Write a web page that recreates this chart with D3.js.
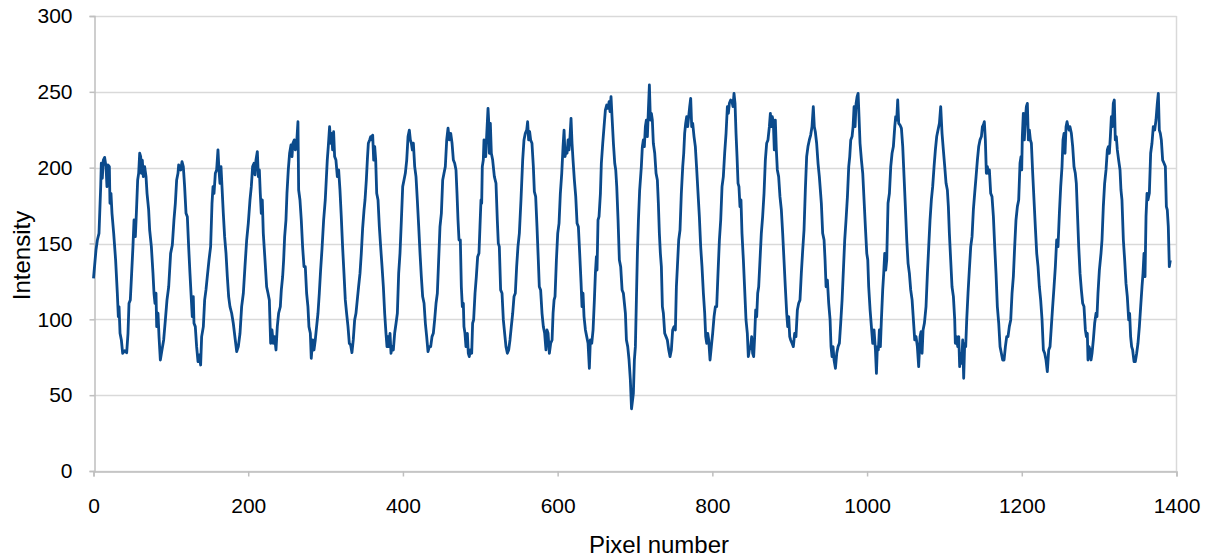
<!DOCTYPE html>
<html>
<head>
<meta charset="utf-8">
<script src="https://cdn.jsdelivr.net/npm/d3@7"></script>
<style>
  html, body { margin: 0; padding: 0; background: #ffffff; }
  svg { display: block; font-family: "Liberation Sans", Arial, sans-serif; }
</style>
</head>
<body>
<svg id="chart" width="1207" height="560"></svg>
<script>
// Intensity profile along a line of pixels
const pixelNumber = [
  0, 3.2, 5, 7.1, 9.3, 10.1, 11.4, 12.7, 14.4, 16.2, 17.4, 18.7, 20.5, 21.3, 22.6, 23.9, 26.1, 28.6, 30.8, 32.1,
  33, 34.3, 36, 37.7, 40.3, 42.9, 44.6, 45.9, 47.6, 49.3, 51, 52.4, 54.1, 55.4, 57.1, 58.4, 59.7, 61, 61.8, 63.1,
  64.4, 66.1, 67.9, 69.2, 71.3, 72.6, 74.8, 76.9, 78.2, 79.5, 80.8, 81.7, 83.4, 84.7, 86.4, 88.5, 90.7, 92.9, 95, 97.2,
  99.7, 101.9, 104, 105.8, 107.5, 109.2, 110.1, 112.7, 114.4, 116.1, 117.8, 119.6, 121.3, 123, 124.7, 126.5, 127.7, 129, 129.9, 131.6,
  133.3, 135.1, 136.8, 138.5, 139.8, 142, 143.7, 145.4, 147.1, 149.3, 151.4, 153.2, 154.5, 155.8, 157.5, 159.2, 160.9, 162.2, 163.5, 164.8,
  166.1, 167.8, 169.5, 171.3, 173, 174.7, 176.4, 178.6, 180.7, 183.3, 185.1, 187.2, 189.4, 191.5, 193.7, 195.8, 198, 200.1, 202.3, 204,
  205.7, 207.5, 208.8, 210, 211.8, 213.1, 214.4, 215.6, 216.9, 218.2, 219.5, 221.7, 223.8, 225.6, 227.3, 229, 230.7, 232.4, 234.1, 235.9,
  237.6, 239.3, 241.5, 242.8, 244.5, 245.8, 247.1, 248.8, 250.1, 251.8, 253.5, 255.3, 256.6, 257.8, 259.6, 260.9, 262.6, 264.3, 265.2, 266.9,
  268.6, 270.3, 272.1, 273.8, 275.5, 277.2, 278.5, 280.3, 281.5, 283.3, 285, 286.7, 288.4, 290.2, 291.9, 293.6, 295.3, 297.5, 299.6, 300.9,
  302.2, 303.5, 305.2, 306.5, 307.8, 309.1, 310.4, 311.7, 313.4, 315.2, 316.9, 318.6, 320.3, 322, 323.8, 325.5, 327.2, 329, 330.7, 332.4,
  334.1, 335.8, 337.6, 339.3, 341, 342.7, 344.5, 346.2, 347.9, 349.7, 351, 352.7, 354, 355.3, 357, 358.3, 359.6, 360.9, 362.2, 363.5,
  364.8, 366.1, 367.8, 369.5, 371.2, 373, 374.7, 376.4, 378.1, 379.4, 380.7, 382, 383.3, 384.6, 385.9, 387.6, 389.3, 391.1, 392.8, 394.5,
  396.2, 398, 399.7, 401.4, 403.1, 404.9, 406.6, 408.3, 409.6, 410.9, 412.2, 413.5, 415.2, 416.9, 418.6, 420.4, 422.1, 423.8, 425.5, 427.3,
  429, 430.7, 432.4, 434.2, 435.9, 437.6, 439.3, 441, 442.8, 444.5, 446.2, 447.9, 449.7, 451.4, 453.1, 454.8, 456.6, 458.3, 460, 461.8,
  463.5, 465.2, 466.9, 468.6, 469.9, 471.2, 472.5, 474.2, 475.5, 476.8, 478.1, 478.9, 480.2, 481.5, 483.3, 484.5, 485.8, 487.1, 488.9, 490.1,
  491.4, 493.2, 494.9, 496.6, 498.3, 499.6, 500.9, 501.8, 502.6, 503.9, 504.8, 506.1, 507, 508.2, 510, 510.8, 511.7, 513, 514.3, 516,
  518.2, 520.3, 522, 523.3, 524.6, 526.3, 528.1, 529.8, 531.5, 533.2, 535, 536.7, 538.4, 540.1, 541.9, 543.6, 545.3, 547, 548.7, 550.5,
  552.6, 554.8, 556.5, 558.2, 560, 561.2, 562.5, 563.8, 565.1, 566.8, 568.6, 569.9, 571.6, 573.3, 575, 576.3, 578, 579.8, 581.5, 583.2,
  584.9, 586.2, 587.6, 589.3, 591, 592.8, 594.1, 595.4, 596.6, 598.4, 600.1, 601.8, 603.5, 605.3, 607, 608.3, 609.6, 610.9, 612.2, 613.5,
  614.7, 616, 617.3, 618.6, 619.9, 621.6, 623.4, 625.1, 626.8, 628.5, 630.3, 631.5, 632.8, 634.1, 635.9, 637.6, 639.3, 641, 642.3, 644.1,
  645.8, 647.5, 648.8, 650.1, 650.9, 652.2, 653.5, 655.3, 656.5, 658.3, 660, 661.7, 663.4, 665.2, 666.5, 667.7, 669, 670.3, 672.1, 673.8,
  675.1, 676.4, 678.1, 679.8, 681.5, 683.3, 685, 686.3, 687.6, 688.9, 690.6, 692.3, 694, 695.5, 697.9, 699.2, 700.5, 701.8, 703.1, 704.4,
  706, 708.2, 709.5, 710.8, 712.1, 713.4, 714.7, 716, 717.3, 718.6, 719.9, 721.2, 722.4, 723.7, 725.5, 727.2, 728.9, 730.2, 731.5, 732.8,
  734.1, 735.4, 736.7, 738.4, 740.1, 741.8, 743.6, 745.3, 747, 748.7, 750.5, 752.2, 753.5, 754.8, 756.5, 758.2, 759.9, 761.7, 763, 764.2,
  765.5, 766.8, 768.1, 769.4, 770.7, 772, 773.3, 774.6, 776.3, 778, 779.8, 781.5, 783.2, 784.9, 786.6, 788.4, 790.1, 791.4, 792.7, 794,
  795.3, 797, 798.7, 800.4, 802.2, 803.9, 805.6, 807.3, 809.1, 810.8, 812.5, 814.2, 815.9, 817.7, 819.4, 820.7, 822, 823.7, 825.4, 826.7,
  828, 829.3, 830.6, 831.9, 833.2, 834.4, 835.7, 837, 838.3, 840.1, 841.8, 843.5, 845.2, 846.5, 847.8, 849.5, 850.8, 852.1, 853.4, 854.7,
  856, 857.3, 858.6, 859.9, 861.6, 863.3, 865, 866.8, 868.5, 870.2, 871.9, 873.7, 875, 876.2, 877.5, 878.8, 880.1, 881.4, 882.7, 884,
  885.7, 887.4, 889.2, 890.9, 892.6, 894.3, 896.1, 897.4, 898.7, 900, 901.2, 903, 904.7, 906.4, 908.1, 909.9, 911.6, 913.3, 915, 916.8,
  918.5, 920.2, 921.9, 923.6, 925.4, 927.1, 928.8, 930.5, 931.8, 933.1, 934.8, 936.6, 938.3, 939.6, 940.9, 942.6, 944.4, 945.7, 947, 948.7,
  950.4, 952.2, 953.4, 954.7, 956, 957.3, 959.1, 960.8, 962.5, 964.2, 965.9, 967.7, 969.4, 971.1, 972.8, 974.6, 976.3, 977.6, 978.9, 980.6,
  981.9, 983.2, 984.5, 985.8, 987.1, 988.4, 989.6, 990.9, 992.7, 994.4, 996.1, 997.8, 999.6, 1000.9, 1002.1, 1003.9, 1005.6, 1007.3, 1009, 1010.8,
  1012.1, 1013.3, 1014.6, 1015.9, 1017.2, 1018.5, 1020.2, 1021.5, 1022.8, 1024.1, 1025.4, 1027.1, 1028.9, 1030.6, 1032.3, 1034, 1035.8, 1037, 1038.3, 1039.6,
  1040.9, 1042.6, 1044.4, 1046.1, 1047.8, 1049.5, 1051.3, 1053, 1054.7, 1056.4, 1058.2, 1059.9, 1061.6, 1063.3, 1065, 1066.7, 1068.5, 1069.8, 1071.1, 1072.4,
  1074.1, 1076.2, 1078, 1079.7, 1081.4, 1083.1, 1084.8, 1086.6, 1088.3, 1090, 1091.7, 1093.5, 1095.2, 1096.9, 1098.6, 1100.4, 1102.1, 1103.8, 1105.1, 1106.4,
  1108.1, 1109.8, 1111.6, 1113.3, 1114.1, 1115.4, 1117.2, 1118.5, 1119.7, 1121, 1122.3, 1123.6, 1124.9, 1126.2, 1127.5, 1128.8, 1130.5, 1132.2, 1134, 1135.7,
  1137.4, 1139.1, 1140.9, 1142.6, 1144.3, 1146, 1147.8, 1149.1, 1150.3, 1151.6, 1152.9, 1154.2, 1155.5, 1156.8, 1158.1, 1159.8, 1161.5, 1163.3, 1165, 1166.7,
  1168.4, 1170.2, 1171.9, 1173.6, 1175.3, 1177.1, 1178.8, 1180.5, 1182.2, 1183.9, 1185.7, 1187.4, 1189.1, 1190.8, 1192.5, 1194.3, 1196, 1197.7, 1199, 1199.9,
  1200.7, 1202, 1203.3, 1204.6, 1205.9, 1207.2, 1208.5, 1209.8, 1211.1, 1212.4, 1214.1, 1215.8, 1217.5, 1219.3, 1221, 1222.7, 1224.4, 1226.2, 1227.9, 1229.6,
  1231.3, 1233, 1234.8, 1236.5, 1238.2, 1239.9, 1241.7, 1243.4, 1245.1, 1246.8, 1248.6, 1250.3, 1252, 1253.3, 1254.6, 1255.9, 1257.2, 1258.5, 1259.8, 1261.1,
  1262.3, 1264.1, 1265.8, 1267.5, 1269.2, 1270.5, 1271.8, 1273.6, 1275.3, 1277, 1278.7, 1280.4, 1282.2, 1283.5, 1284.7, 1285.6, 1286.9, 1288.2, 1289.5, 1290.8,
  1292.5, 1294.2, 1296, 1297.2, 1298.5, 1300.3, 1302.4, 1303.7, 1305.4, 1307.1, 1308.9, 1310.6, 1311.9, 1313.2, 1314.5, 1315.8, 1317, 1318.3, 1319.6, 1320.9,
  1322.2, 1323.5, 1325.2, 1327, 1328.2, 1329.5, 1331.3, 1333, 1334.7, 1336.4, 1338.2, 1339.4, 1340.7, 1342, 1343.3, 1345.1, 1346.8, 1348.5, 1350.2, 1352,
  1353.7, 1355.4, 1356.7, 1358, 1359.3, 1360.6, 1361.9, 1363.1, 1364.9, 1366.6, 1368.3, 1370, 1371.8, 1373.5, 1375.2, 1376.5, 1377.8, 1379.1, 1380.4, 1382.1,
  1383.9, 1385.6, 1386.9, 1388.1, 1389.4, 1390.7, 1392
];

const intensity = [
  127, 145.7, 152.3, 156.7, 187.5, 202.9, 193, 205, 206.8, 200.7, 187.5, 201.8, 200.7, 176.5, 183.1, 169.9, 156.7, 139.1, 117.2, 101.8,
  108.4, 90.8, 86.4, 77.6, 79.3, 78, 90.8, 110.6, 112.8, 130.3, 147.9, 165.5, 154.5, 169.9, 191.9, 196.3, 209.5, 207.3, 196.3, 205,
  194.1, 200.7, 194.1, 183.1, 172.1, 158.9, 147.9, 130.3, 117.2, 110.6, 117.2, 95.2, 104, 88.6, 73.2, 79.8, 86.4, 99.6, 112.8, 121.5,
  143.5, 149, 165.5, 176.5, 191.9, 196.3, 201.8, 198.5, 204, 200.7, 187.5, 169.9, 167.7, 147.9, 130.3, 112.8, 101.8, 115, 97.4, 95.2,
  82, 72.1, 76.5, 69.9, 88.6, 95.2, 112.8, 119.4, 128.1, 139.1, 147.9, 176.5, 187.5, 183.1, 196.3, 198.5, 211.7, 198.5, 189.7, 200.7,
  187.5, 169.9, 154.5, 143.5, 128.1, 115, 108.4, 104, 97.4, 86.4, 78.7, 82, 90.8, 108.4, 117.2, 134.7, 152.3, 163.3, 178.7, 187.5,
  200.7, 202.9, 195.2, 205, 210.6, 194.1, 198.5, 183.1, 169.9, 178.7, 156.7, 139.1, 121.5, 117.2, 112.8, 84.2, 93, 84.2, 88.6, 79.8,
  95.2, 104, 108.4, 119.4, 128.1, 139.1, 154.5, 165.5, 183.1, 198.5, 209.5, 215, 207.3, 216.1, 218.3, 211.7, 216.1, 230.3, 185.3, 178.7,
  165.5, 147.9, 134.7, 134.7, 117.2, 108.4, 95.2, 90.8, 74.3, 86.4, 79.8, 86.4, 95.2, 104, 117.2, 132.5, 145.7, 165.5, 178.7, 191.9,
  205, 213.9, 227, 216.1, 222.6, 211.7, 223.7, 207.3, 205, 194.1, 198.5, 185.3, 167.7, 147.9, 130.3, 112.8, 104, 95.2, 84.2, 83.1,
  78, 86.4, 99.6, 104, 112.8, 121.5, 130.3, 143.5, 160, 172, 178.7, 191.9, 205, 216.1, 218.3, 220.5, 218.3, 221.5, 205, 213.9,
  205, 183.1, 178.7, 161.1, 147.9, 134.7, 121.5, 104, 90.8, 82, 88.6, 82, 90.8, 77.6, 82, 79.8, 90.8, 97.4, 104, 130.3,
  143.5, 165.5, 187.5, 191.9, 196.3, 205, 220.5, 224.8, 218.3, 216.1, 211.7, 216.1, 200.7, 194.1, 178.7, 161.1, 143.5, 128.1, 115, 110.6,
  97.4, 88.6, 78.7, 82, 82, 88.6, 90.8, 99.6, 110.6, 117.2, 139.1, 161.1, 169.9, 191.9, 196.3, 200.7, 218.3, 226, 218.3, 222.6,
  216.1, 205, 202.9, 198.5, 183.1, 165.5, 152.3, 152.3, 121.5, 108.4, 110.6, 95.2, 90.8, 82, 90.8, 77.6, 75.4, 79.8, 77.6, 97.4,
  99.6, 117.2, 128.1, 141.3, 143.5, 161.1, 178.7, 176.5, 200.7, 205, 218.3, 213.9, 207.3, 220.5, 239.1, 231.4, 209.5, 229.2, 209.5, 205,
  194.1, 189.7, 165.5, 150.1, 147.9, 119.4, 117.2, 99.6, 90.8, 82, 77.6, 79.8, 86.4, 95.2, 104, 115, 117.2, 134.7, 147.9, 156.7,
  178.7, 205, 218.3, 222.6, 224.8, 230.3, 218.3, 223.7, 218.3, 216.1, 200.7, 184.2, 180.9, 161.1, 139.1, 121.5, 119.4, 104, 95.2, 90.8,
  79.8, 93, 90.8, 77.6, 84.2, 86.4, 104, 112.8, 115, 139.1, 156.7, 163.3, 183.1, 196.3, 213.9, 224.8, 207.3, 211.7, 209.5, 218.3,
  211.7, 220.5, 232.5, 216.1, 205, 191.9, 180.9, 163.3, 161.1, 143.5, 123.7, 108.4, 117.2, 101.8, 93, 88.6, 84.2, 67.7, 86.4, 84.2,
  93, 112.8, 130.3, 141.3, 132.5, 165.5, 167.7, 183.1, 202.9, 216.1, 227, 238, 241.3, 239.1, 243.5, 236.9, 246.8, 233.6, 216.1, 202.9,
  198.5, 187.5, 165.5, 139.1, 134.7, 119.4, 117.2, 110.6, 104, 86.4, 82, 73.2, 60, 41, 51.2, 73.2, 82, 112.8, 143.5, 165,
  185, 200.7, 213.9, 218.3, 213.9, 227, 231.4, 220.5, 238, 254.5, 231.4, 235.8, 231.4, 216.1, 209.5, 196.3, 191.9, 176.5, 156.7, 143.5,
  134.7, 108.4, 104, 90.8, 88.6, 86.4, 79.8, 75.4, 79.8, 93, 95.2, 93, 121.5, 134.7, 152.3, 158.9, 183.1, 200.7, 209.5, 222.6,
  229.2, 233.6, 227, 233.6, 240.2, 245.7, 227, 229.2, 220.5, 213.9, 198.5, 183.1, 167.7, 147.9, 134.7, 117.2, 104, 88.6, 84.2, 90.8,
  86.4, 73.2, 82, 90.8, 101.8, 108.4, 108.4, 130.3, 152.3, 165.5, 187.5, 194.1, 209.5, 222.6, 240.2, 235.8, 242.4, 244.6, 243.5, 240.2,
  249, 242.4, 222.6, 207.3, 189.7, 187.5, 174.3, 178.7, 156.7, 139.1, 119.4, 99.6, 90.8, 75.4, 79.8, 82, 88.6, 77.6, 75.4, 88.6,
  106.2, 101.8, 117.2, 121.5, 139.1, 156.7, 167.7, 183.1, 205, 216.1, 218.3, 227, 235.8, 227, 233.6, 230.3, 211.7, 231.4, 211.7, 198.5,
  194.1, 180.9, 172.1, 156.7, 139.1, 121.5, 104, 95.2, 101.8, 88.6, 86.4, 84.2, 82, 90.8, 88.6, 106.2, 110.6, 112.8, 130.3, 145.7,
  158.9, 185.3, 207.3, 213.9, 218.3, 221.5, 227, 240.2, 227, 223.7, 216.1, 202.9, 194.1, 185.3, 176.5, 156.7, 152.3, 139.1, 121.5, 125.9,
  110.6, 99.6, 82, 75.4, 82, 73.2, 67.7, 77.6, 82, 84.2, 97.4, 112.8, 132.5, 152.3, 165.5, 180.9, 200.7, 207.3, 218.3, 220.5,
  227, 240.2, 227, 242.4, 246.8, 249, 233.6, 216.1, 205, 196.3, 178.7, 161.1, 143.5, 139.1, 121.5, 106.2, 95.2, 84.2, 93, 79.8,
  64.4, 82, 79.8, 93, 82, 99.6, 119.4, 130.3, 143.5, 132.5, 139.1, 176.5, 183.1, 200.7, 209.5, 213.9, 227, 233.6, 231.4, 244.6,
  229.2, 228.1, 225.9, 213.9, 194.1, 174.3, 152.3, 136.9, 130.3, 119.4, 112.8, 99.6, 86.4, 88.6, 82, 68.8, 88.6, 91.9, 77.6, 93,
  97.4, 108.4, 130.3, 147.9, 165.5, 178.7, 187.5, 200.7, 211.7, 220.5, 224.8, 229.2, 240.2, 222.6, 211.7, 200.7, 189.7, 185.3, 174.3, 156.7,
  139.1, 121.5, 115, 99.6, 84.2, 88.6, 82, 88.6, 68.8, 77.6, 70.9, 86.4, 61.1, 84.2, 82, 99.6, 117.2, 132.5, 147.9, 154.5,
  172.1, 183.1, 194.1, 205, 213.9, 218.3, 220.5, 227, 228.1, 230.3, 218.3, 196.3, 200.7, 196.3, 198.5, 183.1, 180.9, 167.7, 147.9, 130.3,
  108.4, 97.4, 82, 77.6, 73.2, 73.2, 82, 88.6, 88.6, 95.2, 99.6, 117.2, 128.1, 147.9, 165.5, 174.3, 178.7, 202.9, 207.3, 198.5,
  220.5, 235.8, 218.3, 231.4, 240.2, 242.4, 218.3, 224.8, 218.3, 216.1, 196.3, 178.7, 161.1, 143.5, 134.7, 121.5, 112.8, 99.6, 79.8, 77.6,
  73.2, 65.5, 79.8, 82, 95.2, 108.4, 121.5, 134.7, 152.3, 147.9, 169.9, 187.5, 200.7, 218.3, 222.6, 209.5, 227, 230.3, 227, 224.8,
  227, 222.6, 213.9, 200.7, 196.3, 189.7, 172.1, 147.9, 130.3, 119.4, 110.6, 108.4, 93, 88.6, 90.8, 73.2, 82, 79.8, 73.2, 77.6,
  86.4, 97.4, 104, 101.8, 117.2, 132.5, 143.5, 152.3, 174.3, 189.7, 198.5, 211.7, 213.9, 209.5, 220.5, 233.6, 227, 242.4, 244.6, 218.3,
  220.5, 211.7, 205, 198.5, 185.3, 178.7, 152.3, 139.1, 123.7, 115, 99.6, 104, 88.6, 82, 79.8, 72.1, 72.1, 77.6, 84.2, 95.2,
  108.4, 121.5, 130.3, 143.5, 128.1, 167.7, 183.1, 178.7, 183.1, 209.5, 216.1, 227, 224.8, 231.4, 242.4, 249, 224.8, 222.6, 218.3, 205,
  202.9, 200.7, 174.3, 172.1, 161.1, 134.7, 139
];

const yTickValues = [0, 50, 100, 150, 200, 250, 300];
const xTickValues = [0, 200, 400, 600, 800, 1000, 1200, 1400];
const xTitle = "Pixel number";
const yTitle = "Intensity";

const series = pixelNumber.map((p, i) => ({ x: p, y: intensity[i] }));

const svg = d3.select("#chart");
const plot = { left: 93.5, right: 1176.5, top: 16, bottom: 471 };

const x = d3.scaleLinear().domain([0, 1400]).range([plot.left, plot.right]);
const y = d3.scaleLinear().domain([0, 300]).range([plot.bottom, plot.top]);

const gridColor = "#d9d9d9";
const axisColor = "#bfbfbf";

// horizontal gridlines
svg.append("g")
  .selectAll("line")
  .data(yTickValues)
  .join("line")
  .attr("x1", plot.left).attr("x2", plot.right)
  .attr("y1", d => Math.round(y(d)) + 0.5).attr("y2", d => Math.round(y(d)) + 0.5)
  .attr("stroke", gridColor).attr("stroke-width", 1.5);

// right edge of plot area
svg.append("line")
  .attr("x1", plot.right).attr("x2", plot.right)
  .attr("y1", plot.top).attr("y2", plot.bottom)
  .attr("stroke", gridColor).attr("stroke-width", 1.5);

// axes
const xAxis = d3.axisBottom(x).tickValues(xTickValues).tickSize(5).tickPadding(22).tickFormat(d3.format("d"));
const yAxis = d3.axisLeft(y).tickValues(yTickValues).tickSize(5).tickPadding(17).tickFormat(d3.format("d"));

const gx = svg.append("g").attr("transform", `translate(0,${Math.round(plot.bottom) + 0.5})`).call(xAxis);
const gy = svg.append("g").attr("transform", `translate(${Math.round(plot.left) + 0.5},0)`).call(yAxis);

[gx, gy].forEach(g => {
  g.select(".domain").attr("stroke", axisColor).attr("stroke-width", 1.5);
  g.selectAll(".tick line").attr("stroke", axisColor).attr("stroke-width", 1.5);
  g.selectAll(".tick text")
    .attr("fill", "#000")
    .style("font-size", "21px")
    .style("font-family", "'Liberation Sans', Arial, sans-serif");
});

// signal line
const line = d3.line().x(d => x(d.x)).y(d => y(d.y));
svg.append("path")
  .datum(series)
  .attr("fill", "none")
  .attr("stroke", "#0b4a8b")
  .attr("stroke-width", 2.8)
  .attr("stroke-linejoin", "round")
  .attr("d", line);

// axis titles
svg.append("text")
  .attr("x", 659).attr("y", 553)
  .attr("text-anchor", "middle")
  .style("font-size", "24px")
  .attr("fill", "#000")
  .text(xTitle);

svg.append("text")
  .attr("transform", `translate(30,${(plot.top + plot.bottom) / 2 + 12}) rotate(-90)`)
  .attr("text-anchor", "middle")
  .style("font-size", "24px")
  .attr("fill", "#000")
  .text(yTitle);
</script>
</body>
</html>
